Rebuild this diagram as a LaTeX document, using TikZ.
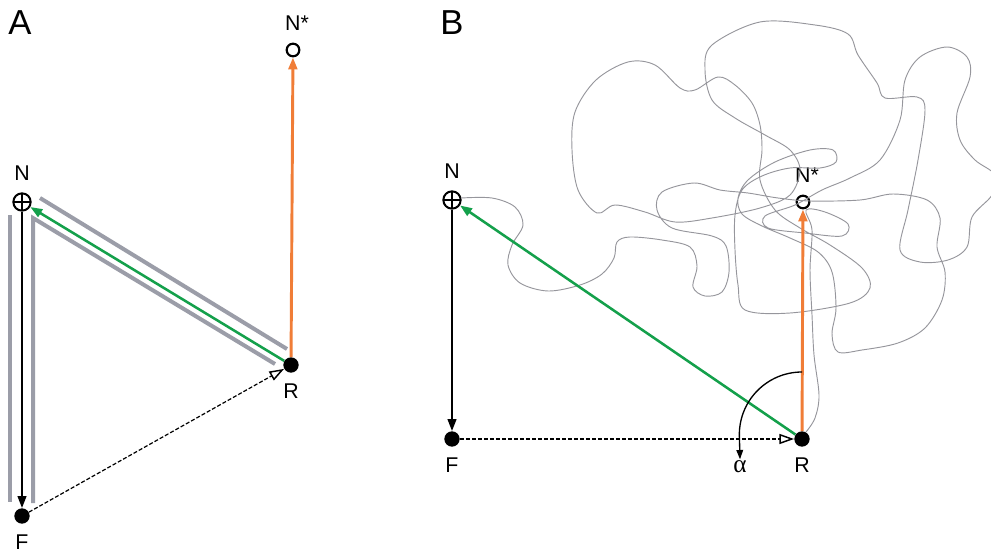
\documentclass[tikz,border=0pt]{standalone}
\usepackage{fontspec}
\setmainfont{Liberation Sans}
\newfontfamily\greekfont{Liberation Serif}
\usetikzlibrary{arrows.meta,positioning}
\definecolor{walkgray}{RGB}{150,150,156}
\definecolor{trackgray}{RGB}{155,157,168}
\definecolor{pathgreen}{RGB}{20,160,75}
\definecolor{pathorange}{RGB}{240,125,55}

\begin{document}
\begin{tikzpicture}[
    x=0.75pt, y=-0.75pt,
    dot/.style={circle, fill=black, inner sep=0pt, minimum size=11.5pt},
    goal/.style={circle, draw, line width=1.6pt, inner sep=0pt, minimum size=9.5pt},
    nest/.style={circle, draw, line width=1.5pt, inner sep=0pt, minimum size=13pt,
      path picture={\draw[line width=1.2pt]
        (path picture bounding box.north) -- (path picture bounding box.south)
        (path picture bounding box.west) -- (path picture bounding box.east);}},
    lab/.style={font=\fontsize{16}{18}\selectfont, inner sep=1pt},
    panel/.style={font=\fontsize{26}{28}\selectfont, inner sep=0pt},
    vec/.style={line width=1.6pt, -{Triangle[length=9pt,width=6.5pt]}},
    track/.style={trackgray, line width=3pt},
    direct/.style={line width=0.9pt, dash pattern=on 3pt off 1.5pt, -{Triangle[open,length=11pt,width=7.5pt,line width=1.1pt]}}
]
\useasboundingbox (0,0) rectangle (991,549);

% panel A
\node[panel] (labA) at (20,23) {A};
\node[nest] (nA) at (22,202) {};
\node[goal] (nsA) at (293,50) {};
\node[dot] (rA) at (291,365) {};
\node[dot] (fA) at (22,516) {};
\node[lab, above=8pt of nA] {N};
\node[lab, above=8pt of nsA, xshift=3pt] {N*};
\node[lab, below=7pt of rA] {R};
\node[lab, below=7pt of fA] {F};

\draw[track] (10,215) -- (10,502);
\draw[track] (33,503) -- (33,218) -- (275,364);
\draw[track] (40,198) -- (287,349);

\draw[vec, pathorange, line width=2.2pt] (rA) -- (nsA);
\draw[vec, pathgreen, line width=1.9pt] (rA) -- (nA);
\draw[vec] (nA) -- (fA);
\draw[direct] (fA) -- (rA);

% panel B
\node[panel] (labB) at (452,23) {B};
\node[nest] (nB) at (452,200) {};
\node[goal] (nsB) at (803,202) {};
\node[dot] (rB) at (802,439) {};
\node[dot] (fB) at (452,439) {};
\node[lab, above=8pt of nB] {N};
\node[lab, above=8pt of nsB, xshift=3pt] {N*};
\node[lab, below=7pt of rB] {R};
\node[lab, below=7pt of fB] {F};
\node[font=\greekfont\fontsize{19}{20}\selectfont, inner sep=1pt] (alpha) at (740,467) {α};

% search path
\draw[walkgray, line width=0.7pt] plot[smooth, tension=0.55] coordinates {
  (461,198) (492,198) (515,207) (523,225) (512,245) (508,265) (520,283) (548,291)
  (580,285) (602,274) (614,258) (617,242) (630,237) (662,240) (690,247) (697,266)
  (693,287) (705,296) (722,292) (729,272) (726,246) (712,236) (672,228) (657,210)
  (662,192) (694,183) (720,190) (748,193) (778,198) (810,201) (860,200) (893,194)
  (927,200) (940,218) (937,247) (945,272) (942,300) (925,328) (898,343) (862,350)
  (838,352) (832,334) (836,308) (832,272) (818,252) (790,238) (762,226) (742,214)
  (738,198) (748,180) (775,162) (810,150) (833,150) (836,162) (820,168) (790,168)
  (762,176) (742,190) (735,215) (735,250) (738,285) (745,310) (790,313) (850,303)
  (870,288) (862,268) (830,245) (800,228) (775,210) (760,180) (762,150) (760,125)
  (752,103) (735,85) (718,77) (695,90) (680,88) (655,65) (628,62) (596,80)
  (575,112) (572,150) (578,190) (597,213) (615,205) (645,212) (675,222) (712,218)
  (760,208) (790,195) (800,170) (790,150) (765,135) (735,118) (712,100) (705,70)
  (712,45) (760,22) (815,25) (848,34) (858,55) (877,83) (885,98) (917,97)
  (925,110) (918,160) (908,210) (900,250) (920,262) (948,260) (967,247) (972,217)
  (992,195) (995,175) (975,160) (960,140) (957,113) (970,77) (967,57) (947,47)
  (920,57) (905,80) (900,120) (880,160) (850,178) (822,190) (795,205) (765,216)
  (768,228) (805,233) (842,236) (848,224) (825,212) (806,210) (812,230)
  (810,270) (812,315) (814,355) (819,395) (815,418) (806,432)};

\draw[vec, pathorange, line width=2.2pt] (rB) -- (nsB);
\draw[vec, pathgreen, line width=1.9pt] (rB) -- (nB);
\draw[vec] (nB) -- (fB);
\draw[direct] (fB) -- (rB);

\coordinate (angstart) at (802,372);
\draw[line width=1pt, -{Triangle[length=7pt,width=5pt]}] (angstart) arc[start angle=90, end angle=180, radius=47pt] -- (alpha.north);

\end{tikzpicture}
\end{document}
